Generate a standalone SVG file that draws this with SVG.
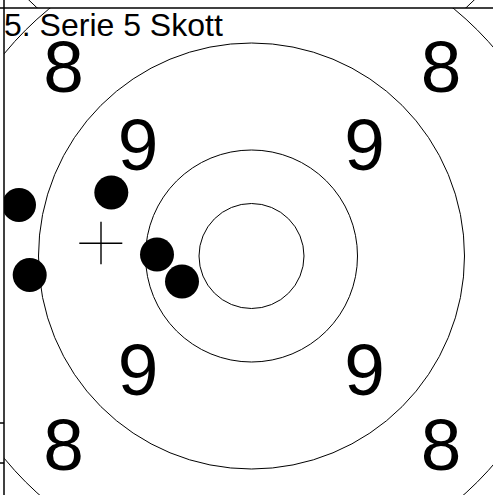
<svg xmlns="http://www.w3.org/2000/svg" width="493" height="495" viewBox="0 0 493 495">
<style>
.ring{fill:none;stroke:#000;stroke-width:1}
.frame{stroke:#000;stroke-width:1.5;fill:none}
.lbl{font-family:"Liberation Sans",Arial,sans-serif;font-size:73px;fill:#000;text-anchor:middle}
.title{font-family:"Liberation Sans",Arial,sans-serif;font-size:32px;fill:#000}
.shot{fill:#000}
</style>
<defs>
<clipPath id="cur"><rect x="4" y="8" width="489" height="487"/></clipPath>
<clipPath id="prev"><rect x="4" y="0" width="489" height="8"/></clipPath>
</defs>
<rect width="493" height="495" fill="#fff"/>
<g id="previous-target" clip-path="url(#prev)">
<circle class="ring" cx="251.5" cy="-229" r="319.5"/>
</g>
<g id="target" clip-path="url(#cur)">
<circle id="ring-7" class="ring" cx="251.5" cy="256" r="319.5"/>
<circle id="ring-8" class="ring" cx="251.5" cy="256" r="213"/>
<circle id="ring-9" class="ring" cx="251.5" cy="256" r="106"/>
<circle id="ring-10" class="ring" cx="251.5" cy="256" r="52.5"/>
</g>
<g id="frame">
<line class="frame" x1="0" y1="8" x2="493" y2="8"/>
<line class="frame" x1="4" y1="0" x2="4" y2="495"/>
<line class="frame" x1="0" y1="423" x2="4" y2="423"/>
<line class="frame" x1="0" y1="463" x2="4" y2="463"/>
</g>
<g id="labels">
<text class="lbl" x="63.5" y="92">8</text>
<text class="lbl" x="441" y="92">8</text>
<text class="lbl" x="63.5" y="470">8</text>
<text class="lbl" x="441" y="470">8</text>
<text class="lbl" x="138" y="170">9</text>
<text class="lbl" x="364.5" y="170">9</text>
<text class="lbl" x="138" y="395">9</text>
<text class="lbl" x="364.5" y="395">9</text>
</g>
<g id="title"><text class="title" x="4" y="36">5. Serie 5 Skott</text></g>
<g id="shots" clip-path="url(#cur)">
<circle class="shot" cx="19" cy="205" r="17"/>
<circle class="shot" cx="111.3" cy="192.5" r="17"/>
<circle class="shot" cx="29.7" cy="275" r="17"/>
<circle class="shot" cx="157" cy="254.5" r="17"/>
<circle class="shot" cx="182" cy="281.5" r="17"/>
</g>
<g id="center-mark" stroke="#000" stroke-width="1.4">
<line x1="79.3" y1="243.3" x2="122.3" y2="243.3"/>
<line x1="101" y1="221.7" x2="101" y2="264.3"/>
</g>
</svg>
